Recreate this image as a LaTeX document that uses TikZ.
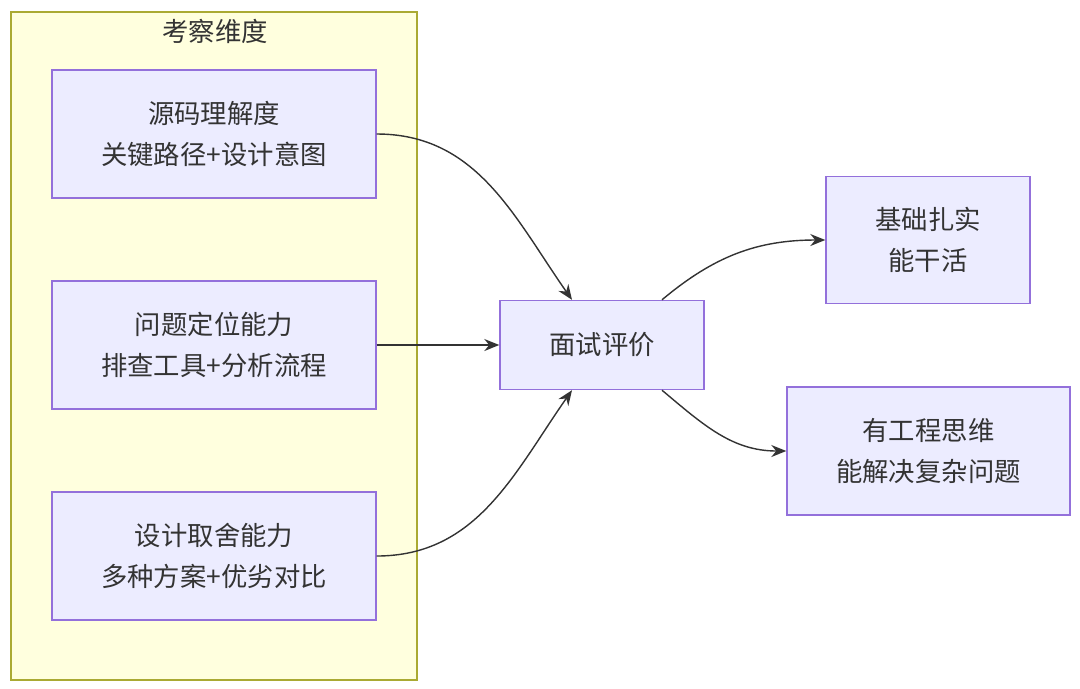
\documentclass[tikz,border=0pt]{standalone}
\usepackage{fontspec}
\setmainfont{Noto Sans CJK SC}
\usetikzlibrary{arrows.meta}
\definecolor{boxfill}{HTML}{ECECFF}
\definecolor{boxline}{HTML}{9370DB}
\definecolor{grpfill}{HTML}{FFFFDE}
\definecolor{grpline}{HTML}{AAAA33}
\begin{document}
\begin{tikzpicture}[every node/.style={align=center, font=\fontsize{15}{23.5}\selectfont, text=black!80},
box/.style={rectangle, fill=boxfill, draw=boxline, thick},
link/.style={-{Stealth[length=3mm,width=2.4mm]}, thick, draw=black!80}]
\useasboundingbox (0,0) rectangle (21.6,-13.76);
\node (grp) at (4.28,-6.92) [fill=grpfill, draw=grpline, thick, minimum width=8.12cm, minimum height=13.36cm] {};
\node (title) at (4.3,-0.62) {考察维度};
\node (src) at (4.28,-2.68) [box, minimum width=6.48cm, minimum height=2.56cm] {源码理解度\\关键路径+设计意图};
\node (loc) at (4.28,-6.9) [box, minimum width=6.48cm, minimum height=2.56cm] {问题定位能力\\排查工具+分析流程};
\node (dsg) at (4.28,-11.12) [box, minimum width=6.48cm, minimum height=2.56cm] {设计取舍能力\\多种方案+优劣对比};
\node (eval) at (12.04,-6.9) [box, minimum width=4.08cm, minimum height=1.78cm] {面试评价};
\node (base) at (18.56,-4.8) [box, minimum width=4.08cm, minimum height=2.54cm] {基础扎实\\能干活};
\node (eng) at (18.57,-9.02) [box, minimum width=5.66cm, minimum height=2.56cm] {有工程思维\\能解决复杂问题};
\draw[link] (src.east) to[out=0,in=125] ([xshift=-0.6cm]eval.north);
\draw[link] (loc.east) -- (eval.west);
\draw[link] (dsg.east) to[out=0,in=235] ([xshift=-0.6cm]eval.south);
\draw[link] ([xshift=1.2cm]eval.north) to[out=40,in=180] (base.west);
\draw[link] ([xshift=1.2cm]eval.south) to[out=-40,in=180] (eng.west);
\end{tikzpicture}
\end{document}
